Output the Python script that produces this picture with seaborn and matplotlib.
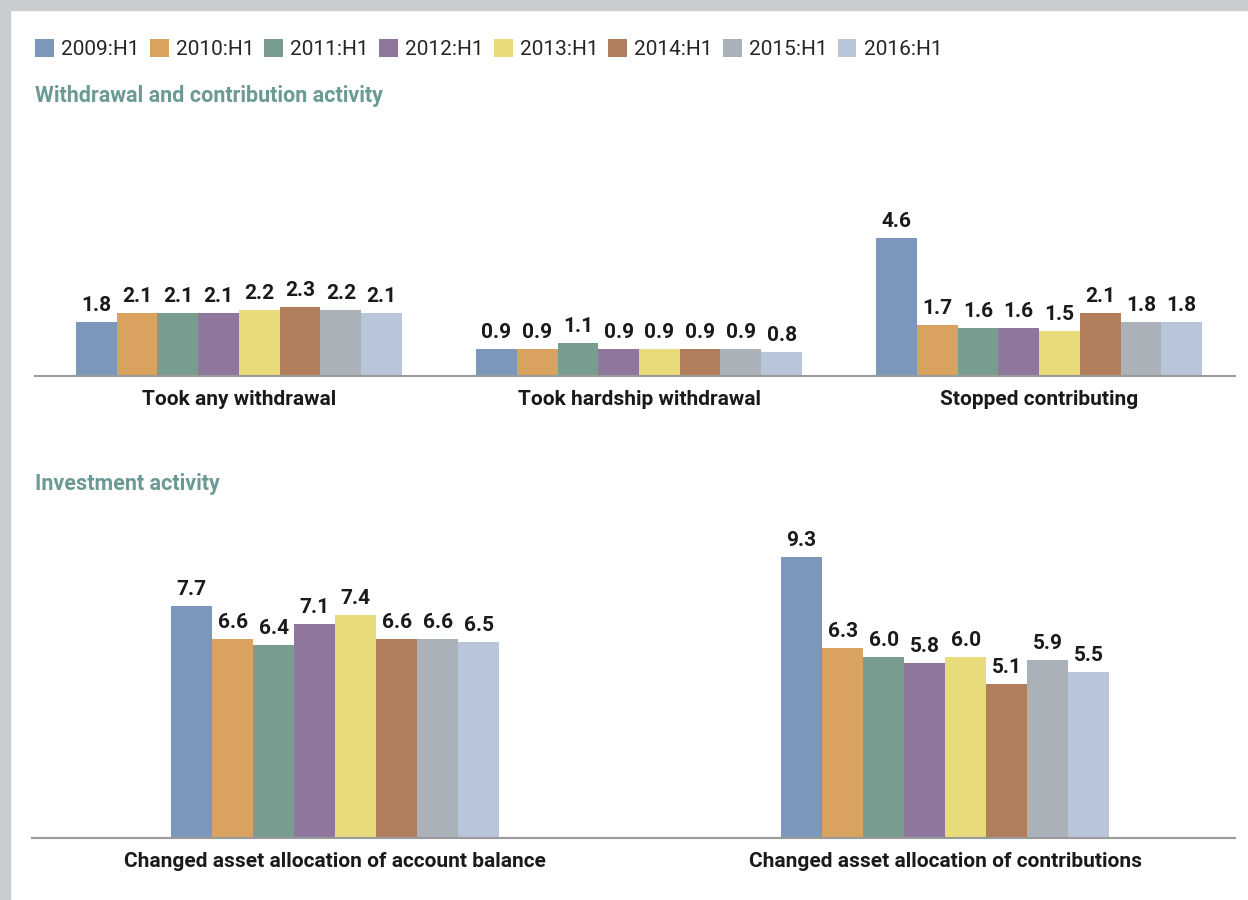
import pandas as pd
import numpy as np
import seaborn as sns
import matplotlib.pyplot as plt
from matplotlib import font_manager
from matplotlib.patches import Rectangle

years = ['2009:H1', '2010:H1', '2011:H1', '2012:H1', '2013:H1', '2014:H1', '2015:H1', '2016:H1']
colors = ['#7b98bc', '#d9a35f', '#789d8f', '#8f769c', '#e7db7c', '#b17e5b', '#aab1b9', '#b9c6da']

top_cats = ['Took any withdrawal', 'Took hardship withdrawal', 'Stopped contributing']
any_withdrawal = [1.8, 2.1, 2.1, 2.1, 2.2, 2.3, 2.2, 2.1]
hardship_withdrawal = [0.9, 0.9, 1.1, 0.9, 0.9, 0.9, 0.9, 0.8]
stopped_contributing = [4.6, 1.7, 1.6, 1.6, 1.5, 2.1, 1.8, 1.8]

bottom_cats = ['Changed asset allocation of account balance', 'Changed asset allocation of contributions']
changed_balance = [7.7, 6.6, 6.4, 7.1, 7.4, 6.6, 6.6, 6.5]
changed_contrib = [9.3, 6.3, 6.0, 5.8, 6.0, 5.1, 5.9, 5.5]

title_top = 'Withdrawal and contribution activity'
title_bottom = 'Investment activity'

# pick a narrow font if there is one
names = {f.name for f in font_manager.fontManager.ttflist}
fam = 'Liberation Sans Narrow' if 'Liberation Sans Narrow' in names else 'Roboto'

sns.set_style('white')
plt.rcParams['font.family'] = [fam, 'DejaVu Sans']


def long_df(cats, series):
    rows = []
    for c, vals in zip(cats, series):
        for y, v in zip(years, vals):
            rows.append({'cat': c, 'year': y, 'value': v})
    return pd.DataFrame(rows)


df_top = long_df(top_cats, [any_withdrawal, hardship_withdrawal, stopped_contributing])
df_bot = long_df(bottom_cats, [changed_balance, changed_contrib])

W, H = 1248, 900
fig = plt.figure(figsize=(12.48, 9.0), dpi=100)
fig.patch.set_facecolor('white')

ax1 = fig.add_axes([35 / W, 1 - 376 / H, 1200 / W, 266 / H])
ax2 = fig.add_axes([32 / W, 1 - 838 / H, 1203 / W, 338 / H])

sns.barplot(data=df_top, x='cat', y='value', hue='year', palette=colors,
            width=0.815, gap=0, saturation=1, linewidth=0, ax=ax1)
sns.barplot(data=df_bot, x='cat', y='value', hue='year', palette=colors,
            width=0.538, gap=0, saturation=1, linewidth=0, ax=ax2)

handles, labels = ax1.get_legend_handles_labels()

for ax in (ax1, ax2):
    if ax.get_legend() is not None:
        ax.get_legend().remove()
    for cont in ax.containers:
        ax.bar_label(cont, fmt='%.1f', padding=5, fontsize=15, fontweight='bold',
                     color='#1a1a1a')
    sns.despine(ax=ax, left=True)
    ax.spines['bottom'].set_color('#9a9a9a')
    ax.spines['bottom'].set_linewidth(1.5)
    ax.set_yticks([])
    ax.set_xlabel('')
    ax.set_ylabel('')
    ax.tick_params(axis='x', length=0, pad=10)
    for t in ax.get_xticklabels():
        t.set_fontsize(15)
        t.set_fontweight('bold')
        t.set_color('#1a1a1a')

ax1.set_xlim(-0.51, 2.49)
ax1.set_ylim(0, 8.87)
ax2.set_xlim(-0.497, 1.475)
ax2.set_ylim(0, 11.2)

fig.legend(handles, labels, loc='upper left', bbox_to_anchor=(27 / W, 1 - 31 / H),
           ncol=8, frameon=False, fontsize=15, handlelength=0.9, handleheight=0.9,
           handletextpad=0.35, columnspacing=0.48, borderaxespad=0)

fig.text(35 / W, 1 - 96 / H, title_top, fontsize=15.5, fontweight='bold',
         color='#6b9a95', va='center', ha='left')
fig.text(35 / W, 1 - 484 / H, title_bottom, fontsize=15.5, fontweight='bold',
         color='#6b9a95', va='center', ha='left')

# grey page frame at top and left
fig.patches.append(Rectangle((0, 1 - 10 / H), 1, 10 / H, transform=fig.transFigure,
                             color='#c9ccd1', zorder=0))
fig.patches.append(Rectangle((0, 0), 10 / W, 1, transform=fig.transFigure,
                             color='#c9ccd1', zorder=0))

fig.savefig('out.png', dpi=100)
